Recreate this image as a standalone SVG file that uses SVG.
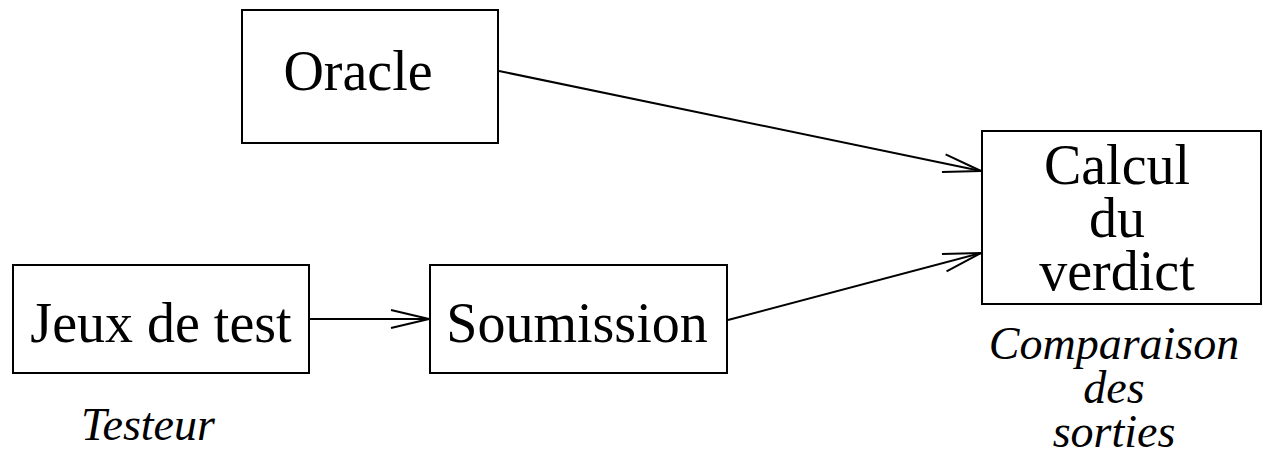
<svg xmlns="http://www.w3.org/2000/svg" width="1263" height="471" viewBox="0 0 1263 471">
  <style>
    .box { fill: #fff; stroke: #000; stroke-width: 2; }
    .label { font-family: "Liberation Serif", "Times New Roman", serif; font-size: 56px; fill: #000; text-anchor: middle; }
    .note { font-family: "Liberation Serif", "Times New Roman", serif; font-size: 46px; font-style: italic; fill: #000; text-anchor: middle; }
    .edge { fill: none; stroke: #000; stroke-width: 2; }
  </style>
  <defs>
    <marker id="open-arrow" markerUnits="userSpaceOnUse" markerWidth="44" markerHeight="24" refX="40" refY="12" orient="auto" viewBox="0 0 44 24">
      <path d="M2,3 L40,12 L2,21" fill="none" stroke="#000" stroke-width="2"/>
    </marker>
  </defs>

  <g id="connectors">
    <line class="edge" x1="499" y1="71" x2="981" y2="171" marker-end="url(#open-arrow)"/>
    <line class="edge" x1="309" y1="319" x2="429" y2="319" marker-end="url(#open-arrow)"/>
    <line class="edge" x1="728" y1="320" x2="981" y2="253" marker-end="url(#open-arrow)"/>
  </g>

  <g id="oracle">
    <rect class="box" x="242" y="10" width="256" height="133"/>
    <text class="label" x="358" y="90">Oracle</text>
  </g>

  <g id="jeux-de-test">
    <rect class="box" x="13" y="265" width="296" height="108"/>
    <text class="label" x="161" y="342">Jeux de test</text>
  </g>

  <g id="soumission">
    <rect class="box" x="430" y="265" width="297" height="108"/>
    <text class="label" x="577" y="342">Soumission</text>
  </g>

  <g id="calcul-du-verdict">
    <rect class="box" x="982" y="131" width="279" height="173"/>
    <text class="label" x="1117" y="184">Calcul</text>
    <text class="label" x="1117" y="237">du</text>
    <text class="label" x="1117" y="290">verdict</text>
  </g>

  <g id="testeur">
    <text class="note" x="148" y="440">Testeur</text>
  </g>

  <g id="comparaison">
    <text class="note" x="1114" y="359">Comparaison</text>
    <text class="note" x="1114" y="403">des</text>
    <text class="note" x="1114" y="447">sorties</text>
  </g>
</svg>
